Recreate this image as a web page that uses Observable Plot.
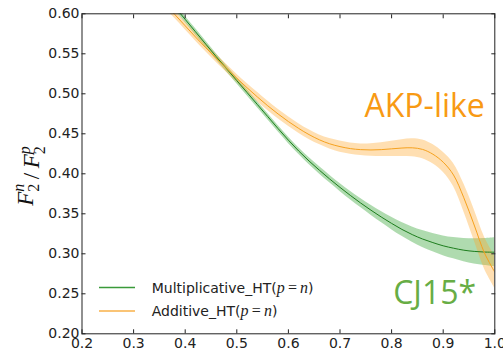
<!DOCTYPE html>
<html><head><meta charset="utf-8">
<script src="https://cdn.jsdelivr.net/npm/d3@7"></script>
<script src="https://cdn.jsdelivr.net/npm/@observablehq/plot@0.6"></script>
<style>
body{margin:0;background:#fff;}
#wrap{position:relative;width:503px;height:351px;overflow:hidden;}
</style></head>
<body><div id="wrap"></div>
<script>
const xs = [0.36,0.38,0.40,0.42,0.44,0.46,0.48,0.50,0.52,0.54,0.56,0.58,0.60,0.62,0.64,0.66,0.68,0.70,0.72,0.74,0.76,0.78,0.80,0.82,0.84,0.86,0.88,0.90,0.92,0.94,0.96,0.98,1.00];
const multMid = [0.624,0.6085,0.593,0.5775,0.562,0.5465,0.5315,0.5165,0.5015,0.4865,0.4715,0.4565,0.442,0.4285,0.416,0.4045,0.3935,0.383,0.373,0.3635,0.3545,0.346,0.338,0.3305,0.324,0.3185,0.314,0.310,0.307,0.3045,0.303,0.3022,0.302];
const multErr = [0.004,0.004,0.004,0.004,0.004,0.004,0.004,0.004,0.004,0.004,0.004,0.004,0.004,0.0042,0.0044,0.0046,0.0048,0.005,0.0053,0.0057,0.0063,0.007,0.0078,0.0087,0.0096,0.0105,0.0114,0.0123,0.0133,0.0145,0.0157,0.0168,0.018];
const addMid = [0.613,0.599,0.585,0.571,0.5575,0.5445,0.532,0.5195,0.5075,0.496,0.485,0.4748,0.4653,0.4567,0.449,0.4425,0.4375,0.434,0.4315,0.4302,0.4298,0.4302,0.4312,0.4322,0.4325,0.4305,0.4245,0.4145,0.3985,0.370,0.336,0.301,0.277];
const addErr = [0.005,0.005,0.005,0.005,0.005,0.005,0.005,0.005,0.0055,0.006,0.006,0.006,0.006,0.006,0.006,0.006,0.0065,0.007,0.007,0.0072,0.0078,0.0086,0.0095,0.0105,0.0113,0.0118,0.012,0.0125,0.0145,0.0175,0.0195,0.02,0.02];
const xTicks = [0.2,0.3,0.4,0.5,0.6,0.7,0.8,0.9,1.0];
const yTicks = [0.20,0.25,0.30,0.35,0.40,0.45,0.50,0.55,0.60];
const seriesNames = ["Multiplicative_HT", "Additive_HT"];
const annotationTexts = ["AKP-like", "CJ15*"];

const rows = xs.map((x,i)=>({
  x,
  gMid: multMid[i], gLo: multMid[i] - multErr[i], gHi: multMid[i] + multErr[i],
  oMid: addMid[i], oLo: addMid[i] - addErr[i], oHi: addMid[i] + addErr[i]
}));

const GREEN_LINE = "#1d7d1d", GREEN_FILL = "#2ca02c";
const ORANGE_LINE = "#f5a11e", ORANGE_FILL = "#ffa52a";
const curve = "catmull-rom";

const plot = Plot.plot({
  width: 503, height: 351,
  marginLeft: 81.5, marginRight: 8.7, marginTop: 13.3, marginBottom: 17.7,
  x: {domain: [0.2, 1.0]},
  y: {domain: [0.2, 0.6]},
  style: {fontFamily: "DejaVu Sans", fontSize: "14px", color: "#222", background: "white"},
  marks: [
    Plot.areaY(rows, {x: "x", y1: "gLo", y2: "gHi", fill: GREEN_FILL, fillOpacity: 0.38, curve, clip: true}),
    Plot.areaY(rows, {x: "x", y1: "oLo", y2: "oHi", fill: ORANGE_FILL, fillOpacity: 0.36, curve, clip: true}),
    Plot.lineY(rows, {x: "x", y: "gMid", stroke: GREEN_LINE, strokeWidth: 1, curve, clip: true}),
    Plot.lineY(rows, {x: "x", y: "oMid", stroke: ORANGE_LINE, strokeWidth: 1, curve, clip: true}),
    Plot.axisX({anchor: "bottom", ticks: xTicks, tickFormat: d3.format(".1f"), tickSize: -4, tickPadding: 8.5, label: null, fontSize: 14}),
    Plot.axisX({anchor: "top", ticks: xTicks, tickFormat: () => "", tickSize: -4, label: null}),
    Plot.axisY({anchor: "left", ticks: yTicks, tickFormat: d3.format(".2f"), tickSize: -4, tickPadding: 6.5, label: null, fontSize: 14}),
    Plot.axisY({anchor: "right", ticks: yTicks, tickFormat: () => "", tickSize: -4, label: null}),
    Plot.frame({stroke: "#222", strokeWidth: 1}),
    Plot.text([annotationTexts[0]], {x: 0.7475, y: 0.4704, text: d => d, textAnchor: "start", lineAnchor: "bottom", fill: "#f89a14", fontSize: 32, fontFamily: "Open Sans"}),
    Plot.text([annotationTexts[1]], {x: 0.803, y: 0.2375, text: d => d, textAnchor: "start", lineAnchor: "bottom", fill: "#67ad45", fontSize: 32, fontFamily: "Open Sans"})
  ]
});
document.getElementById("wrap").appendChild(plot);

const svg = d3.select(plot);
// y label  F_2^n / F_2^p
const yl = svg.append("text")
  .attr("transform", "translate(33,176) rotate(-90)")
  .attr("text-anchor", "middle")
  .attr("fill", "#111")
  .style("font-family", "'Liberation Serif', serif")
  .style("font-size", "23px");
function fpart(sel, sup) {
  sel.append("tspan").style("font-style", "italic").text("F");
  sel.append("tspan").style("font-style", "italic").style("font-size", "16px").attr("dy", -9).text(sup);
  sel.append("tspan").style("font-size", "16px").attr("dx", -8).attr("dy", 15).text("2");
  sel.append("tspan").attr("dy", -6).text("");
}
fpart(yl, "n");
yl.append("tspan").text("\u2009/\u2009");
fpart(yl, "p");

// legend
const legendY = [287.5, 311];
const legendStroke = ["#3a9a3a", "#f8b048"];
seriesNames.forEach((name, i) => {
  svg.append("line").attr("x1", 99).attr("x2", 135).attr("y1", legendY[i]).attr("y2", legendY[i])
    .attr("stroke", legendStroke[i]).attr("stroke-width", 1.3);
  const t = svg.append("text").attr("x", 151.7).attr("y", legendY[i] + 5)
    .attr("text-anchor", "start")
    .attr("fill", "#222").style("font-family", "DejaVu Sans").style("font-size", "14px");
  t.append("tspan").text(name + "(");
  t.append("tspan").style("font-family", "'Liberation Serif', serif").style("font-style", "italic").style("font-size", "16px").text("p");
  t.append("tspan").style("font-family", "'Liberation Serif', serif").style("font-size", "16px").text("\u2009=\u2009");
  t.append("tspan").style("font-family", "'Liberation Serif', serif").style("font-style", "italic").style("font-size", "16px").text("n");
  t.append("tspan").text(")");
});
</script>
</body></html>
